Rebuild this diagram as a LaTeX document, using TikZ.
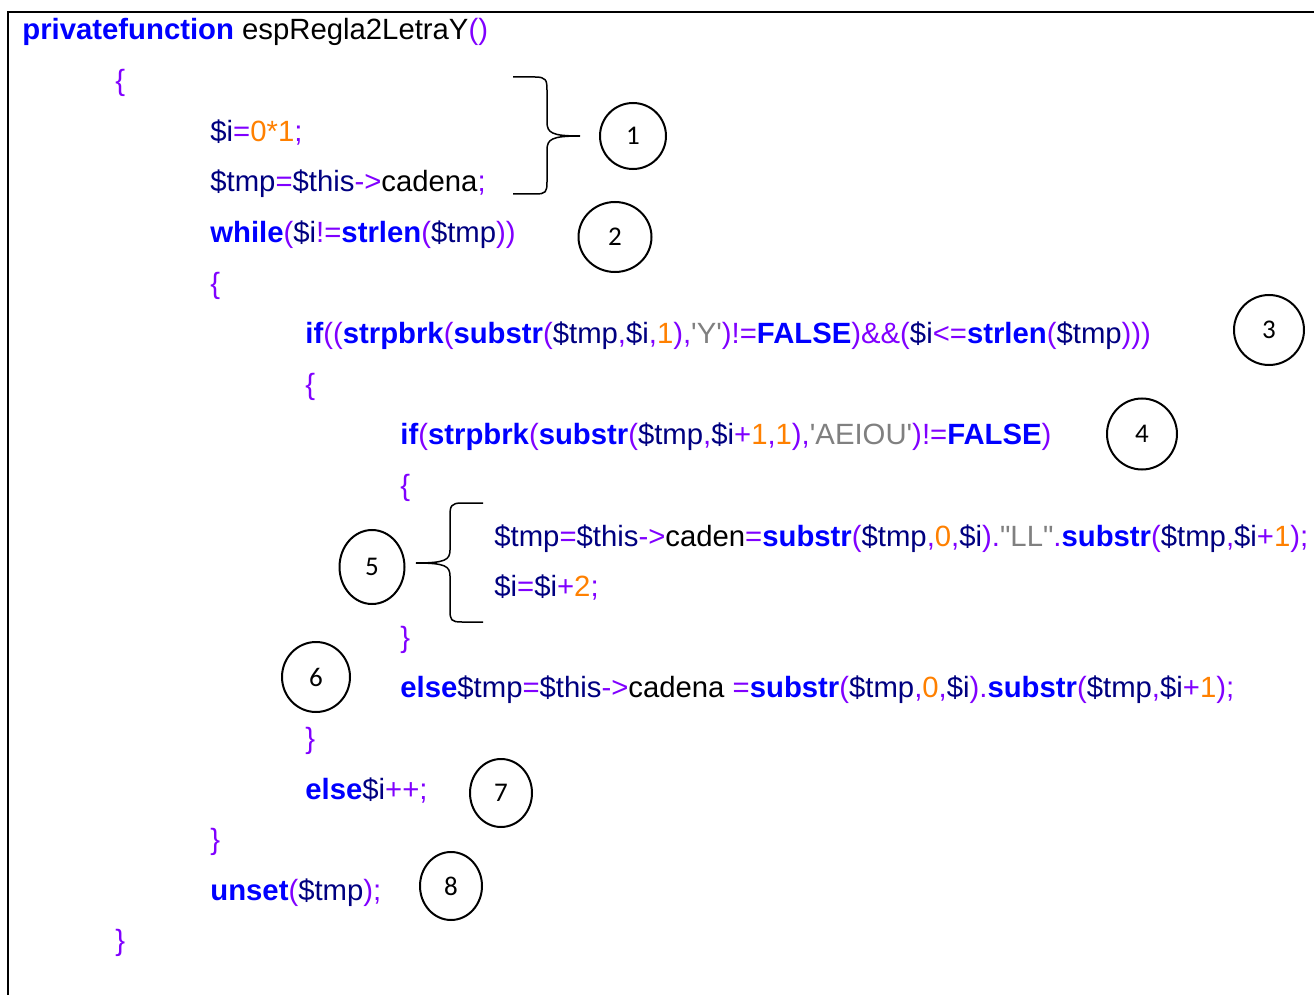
\documentclass[tikz,border=0pt]{standalone}
\usepackage{fontspec}
\newfontfamily\codefont{Liberation Sans}
\newfontfamily\numfont{Carlito}
\usetikzlibrary{shapes,positioning}
\definecolor{kwblue}{RGB}{0,0,255}
\definecolor{varnavy}{RGB}{0,0,128}
\definecolor{oppurple}{RGB}{128,0,255}
\definecolor{numorange}{RGB}{255,128,0}
\definecolor{strgray}{RGB}{128,128,128}
\newcommand{\kw}[1]{\textcolor{kwblue}{\bfseries #1}}
\newcommand{\vr}[1]{\textcolor{varnavy}{#1}}
\newcommand{\op}[1]{\textcolor{oppurple}{#1}}
\newcommand{\nm}[1]{\textcolor{numorange}{#1}}
\newcommand{\st}[1]{\textcolor{strgray}{#1}}
\newcommand{\sq}{\textquotesingle}
\newcommand{\dq}{\textquotedbl}

\begin{document}
\begin{tikzpicture}[x=0.5pt,y=-0.5pt]
\tikzset{codeline/.style={anchor=base west,inner sep=0pt,font={\codefont\fontsize{14.65}{17}\selectfont}}}
\tikzset{mark circle/.style={draw,line width=1pt,ellipse,inner sep=0pt,font={\numfont\fontsize{13.5}{16}\selectfont}}}
\useasboundingbox (0,0) rectangle (1314,995);
%Frame
\draw[line width=1pt] (8,995) -- (8,12) -- (1314,12);

%Code
\node[codeline] (l1) at (22,40) {\kw{privatefunction} espRegla2LetraY\op{()}};
\node[codeline] (l2) at (115,90.6) {\op{\{}};
\node[codeline] (l3) at (210,141.2) {\vr{\$i}\op{=}\nm{0*1}\op{;}};
\node[codeline] (l4) at (210,191.8) {\vr{\$tmp}\op{=}\vr{\$this}\op{->}cadena\op{;}};
\node[codeline] (l5) at (210,242.4) {\kw{while}\op{(}\vr{\$i}\op{!=}\kw{strlen}\op{(}\vr{\$tmp}\op{))}};
\node[codeline] (l6) at (210,293) {\op{\{}};
\node[codeline] (l7) at (305,343.6) {\kw{if}\op{((}\kw{strpbrk}\op{(}\kw{substr}\op{(}\vr{\$tmp}\op{,}\vr{\$i}\op{,}\nm{1}\op{),}\st{\sq Y\sq}\op{)!=}\kw{FALSE}\op{)\&\&(}\vr{\$i}\op{<=}\kw{strlen}\op{(}\vr{\$tmp}\op{)))}};
\node[codeline] (l8) at (305,394.2) {\op{\{}};
\node[codeline] (l9) at (400,444.8) {\kw{if}\op{(}\kw{strpbrk}\op{(}\kw{substr}\op{(}\vr{\$tmp}\op{,}\vr{\$i}\op{+}\nm{1}\op{,}\nm{1}\op{),}\st{\sq AEIOU\sq}\op{)!=}\kw{FALSE}\op{)}};
\node[codeline] (l10) at (400,495.4) {\op{\{}};
\node[codeline] (l11) at (494,546) {\vr{\$tmp}\op{=}\vr{\$this}\op{->}caden\op{=}\kw{substr}\op{(}\vr{\$tmp}\op{,}\nm{0}\op{,}\vr{\$i}\op{).}\st{\dq LL\dq}\op{.}\kw{substr}\op{(}\vr{\$tmp}\op{,}\vr{\$i}\op{+}\nm{1}\op{);}};
\node[codeline] (l12) at (494,596.6) {\vr{\$i}\op{=}\vr{\$i}\op{+}\nm{2}\op{;}};
\node[codeline] (l13) at (400,647.2) {\op{\}}};
\node[codeline] (l14) at (400,697.8) {\kw{else}\vr{\$tmp}\op{=}\vr{\$this}\op{->}cadena \op{=}\kw{substr}\op{(}\vr{\$tmp}\op{,}\nm{0}\op{,}\vr{\$i}\op{).}\kw{substr}\op{(}\vr{\$tmp}\op{,}\vr{\$i}\op{+}\nm{1}\op{);}};
\node[codeline] (l15) at (305,748.4) {\op{\}}};
\node[codeline] (l16) at (305,799) {\kw{else}\vr{\$i}\op{++;}};
\node[codeline] (l17) at (210,849.6) {\op{\}}};
\node[codeline] (l18) at (210,900.2) {\kw{unset}\op{(}\vr{\$tmp}\op{);}};
\node[codeline] (l19) at (115,950.8) {\op{\}}};

%Marks
\node[mark circle,minimum width=33pt,minimum height=33pt] (c1) at (633,136) {1};
\node[mark circle,minimum width=36.5pt,minimum height=35pt] (c2) at (615,237) {2};
\node[mark circle,minimum width=35pt,minimum height=35pt] (c3) at (1269,330) {3};
\node[mark circle,minimum width=35pt,minimum height=35.5pt] (c4) at (1142,434) {4};
\node[mark circle,minimum width=32.5pt,minimum height=37pt] (c5) at (372,567) {5};
\node[mark circle,minimum width=34pt,minimum height=35pt] (c6) at (316,677) {6};
\node[mark circle,minimum width=31pt,minimum height=34pt] (c7) at (501,793) {7};
\node[mark circle,minimum width=31pt,minimum height=34pt] (c8) at (451,886) {8};

%Braces
\draw[line width=0.75pt] (513,77) -- (535,77) .. controls (546,77) and (547,80) .. (547,90) -- (547,122)
  .. controls (547,133) and (552,136) .. (580,136)
  .. controls (552,136) and (547,139) .. (547,150) -- (547,182)
  .. controls (547,192) and (546,194) .. (535,194) -- (513,194);
\draw[line width=0.75pt] (483,503) -- (462,503) .. controls (451,503) and (450,506) .. (450,516) -- (450,550)
  .. controls (450,560) and (445,563) .. (416,563)
  .. controls (445,563) and (450,566) .. (450,576) -- (450,610)
  .. controls (450,620) and (451,622) .. (462,622) -- (483,622);
\end{tikzpicture}
\end{document}
